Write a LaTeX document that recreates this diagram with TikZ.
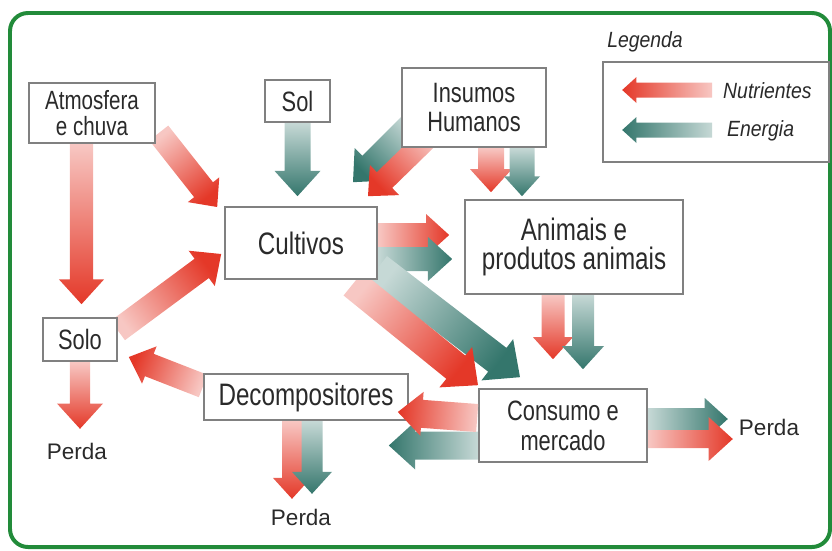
\documentclass[tikz,border=0pt]{standalone}
\usepackage{fontspec}
\setmainfont{Liberation Sans}
\newfontfamily\boxfont{Liberation Sans}[FakeStretch=0.78]
\newfontfamily\legfont{Liberation Sans}[FakeStretch=0.88]
\usetikzlibrary{calc,backgrounds}

\definecolor{nutri}{RGB}{228,56,40}
\definecolor{energ}{RGB}{52,118,108}
\definecolor{framegreen}{RGB}{34,139,58}
\definecolor{boxline}{RGB}{128,128,128}
\definecolor{ink}{RGB}{42,42,42}

% fat shaded arrow: colour, tail, tip, half shaft, half head (in px)
\newcommand{\flowarrow}[5]{%
  \pgfmathanglebetweenpoints{\pgfpointanchor{#2}{center}}{\pgfpointanchor{#3}{center}}%
  \let\flowdir\pgfmathresult
  \pgfmathsetmacro\flowang{\flowdir-90}%
  \pgfmathsetmacro\flowsw{#4*0.8536}%
  \pgfmathsetmacro\flowhw{#5*0.8536}%
  \pgfmathsetmacro\flowhl{#5*0.8536*1.1}%
  \coordinate (fb) at ($(#3)!\flowhl pt!(#2)$);
  \shade[bottom color=#1!28, top color=#1, shading angle=\flowang]
    ($(#2)!\flowsw pt!90:(#3)$) -- ($(fb)!\flowsw pt!90:(#3)$) -- ($(fb)!\flowhw pt!90:(#3)$) -- (#3)
    -- ($(fb)!\flowhw pt!-90:(#3)$) -- ($(fb)!\flowsw pt!-90:(#3)$) -- ($(#2)!\flowsw pt!-90:(#3)$) -- cycle;
}

\begin{document}
\begin{tikzpicture}[x=0.03cm, y=-0.03cm,
        box/.style={rectangle, draw=boxline, line width=1.4pt, fill=white, text=ink, align=center, inner sep=0pt},
        small/.style={box, font=\boxfont\fontsize{23.9}{24.7}\selectfont},
        big/.style={box, font=\boxfont\fontsize{26.5}{24.7}\selectfont},
        loss/.style={text=ink, font=\fontsize{19.2}{22}\selectfont, inner sep=0pt},
        legtext/.style={text=ink, font=\legfont\itshape\fontsize{18.8}{22}\selectfont, inner sep=0pt}
    ]
    \useasboundingbox (0,0) rectangle (832,550);
    \draw[framegreen, line width=3.4pt, rounded corners=0.54cm] (10,13) rectangle (830,547);

    \node[small, minimum width=3.78cm, minimum height=1.8cm, font=\boxfont\fontsize{22.5}{22.5}\selectfont] (atm) at (92,113) {Atmosfera\\e chuva};
    \node[small, minimum width=1.95cm, minimum height=1.26cm] (sol) at (297.5,101) {Sol};
    \node[small, minimum width=4.32cm, minimum height=2.37cm] (ins) at (474,107.5) {Insumos\\Humanos};
    \node[big, minimum width=4.56cm, minimum height=2.16cm] (cult) at (301,243) {Cultivos};
    \node[big, minimum width=6.54cm, minimum height=2.82cm] (anim) at (574,247) {Animais e\\produtos animais};
    \node[small, minimum width=2.22cm, minimum height=1.29cm] (solo) at (80,339.5) {Solo};
    \node[big, minimum width=6.12cm, minimum height=1.38cm] (decomp) at (306,397) {Decompositores};
    \node[small, minimum width=5.04cm, minimum height=2.19cm, font=\boxfont\fontsize{23.9}{25.6}\selectfont] (cons) at (563,425.5) {Consumo e\\mercado};
    \node[loss] (perdaL) at (77,451) {Perda};
    \node[loss] (perdaB) at (301,517) {Perda};
    \node[loss] (perdaR) at (769,427) {Perda};

    % legenda
    \node[legtext] (legtitle) at (645,42) {Legenda};
    \node[box, minimum width=6.78cm, minimum height=3.0cm] (leg) at (716,112) {};
    \node[legtext, anchor=west] (legN) at (723,91) {Nutrientes};
    \node[legtext, anchor=west] (legE) at (727,131) {Energia};

    % arrow ends
    \coordinate (atmsoloT) at ($(atm.south)+(-10.5,0)$);
    \coordinate (atmsoloH) at ($(solo.north)+(1.5,-13)$);
    \coordinate (atmcultT) at ($(atm.east)+(3,20)$);
    \coordinate (atmcultH) at ($(cult.west)+(-7,-36)$);
    \coordinate (solcultT) at (sol.south);
    \coordinate (solcultH) at ($(cult.north)+(-3.5,-10)$);
    \coordinate (inscultET) at ($(ins.west)+(10,16.5)$);
    \coordinate (inscultEH) at ($(cult.north)+(52,-24)$);
    \coordinate (inscultNT) at ($(ins.south)+(-42,-14)$);
    \coordinate (inscultNH) at ($(cult.north)+(67,-10)$);
    \coordinate (insanimNT) at ($(ins.south)+(17,0)$);
    \coordinate (insanimNH) at ($(anim.north)+(-83,-7)$);
    \coordinate (insanimET) at ($(ins.south)+(48,0)$);
    \coordinate (insanimEH) at ($(anim.north)+(-52,-3)$);
    \coordinate (cultanimNT) at ($(cult.east)+(0,-8)$);
    \coordinate (cultanimNH) at ($(anim.west)+(-15,-12)$);
    \coordinate (cultanimET) at ($(cult.east)+(0,16)$);
    \coordinate (cultanimEH) at ($(anim.west)+(-12,12)$);
    \coordinate (solocultT) at ($(solo.east)+(0,-9)$);
    \coordinate (solocultH) at ($(cult.west)+(-3,11)$);
    \coordinate (cultconsET) at ($(cult.east)+(0,25)$);
    \coordinate (cultconsEH) at ($(cons.north)+(-43,-11)$);
    \coordinate (cultconsNT) at ($(cult.south)+(52,4)$);
    \coordinate (cultconsNH) at ($(cons.north)+(-85,-3)$);
    \coordinate (animconsNT) at ($(anim.south)+(-21,0)$);
    \coordinate (animconsNH) at ($(cons.north)+(-10,-29)$);
    \coordinate (animconsET) at ($(anim.south)+(9,0)$);
    \coordinate (animconsEH) at ($(cons.north)+(20,-19)$);
    \coordinate (consdecNT) at ($(cons.west)+(-1,-7.5)$);
    \coordinate (consdecNH) at ($(decomp.east)+(-11,15)$);
    \coordinate (consdecET) at ($(cons.west)+(0,20)$);
    \coordinate (consdecEH) at ($(decomp.east)+(-20,48.5)$);
    \coordinate (decsoloT) at ($(decomp.west)+(0,-11)$);
    \coordinate (decsoloH) at ($(solo.east)+(11,17.5)$);
    \coordinate (soloperdaT) at (solo.south);
    \coordinate (soloperdaH) at ($(solo.south)+(0,67)$);
    \coordinate (decperdaNT) at ($(decomp.south)+(-14,0)$);
    \coordinate (decperdaNH) at ($(decomp.south)+(-14,78)$);
    \coordinate (decperdaET) at ($(decomp.south)+(6,0)$);
    \coordinate (decperdaEH) at ($(decomp.south)+(6,73)$);
    \coordinate (consperdaET) at ($(cons.east)+(0,-6.5)$);
    \coordinate (consperdaEH) at ($(cons.east)+(80,-6.5)$);
    \coordinate (consperdaNT) at ($(cons.east)+(0,13.5)$);
    \coordinate (consperdaNH) at ($(cons.east)+(85,13.5)$);
    \coordinate (legNT) at ($(leg.west)+(110,-22)$);
    \coordinate (legNH) at ($(leg.west)+(20,-22)$);
    \coordinate (legET) at ($(leg.west)+(110,18)$);
    \coordinate (legEH) at ($(leg.west)+(20,18)$);

    \begin{pgfonlayer}{background}
    \flowarrow{nutri}{atmsoloT}{atmsoloH}{11.5}{22.5}
    \flowarrow{nutri}{atmcultT}{atmcultH}{12}{20}
    \flowarrow{energ}{solcultT}{solcultH}{13}{23}
    \flowarrow{energ}{inscultET}{inscultEH}{12}{23}
    \flowarrow{nutri}{inscultNT}{inscultNH}{11}{21}
    \flowarrow{nutri}{insanimNT}{insanimNH}{13}{21}
    \flowarrow{energ}{insanimET}{insanimEH}{12.5}{18}
    \flowarrow{nutri}{cultanimNT}{cultanimNH}{12}{21}
    \flowarrow{energ}{cultanimET}{cultanimEH}{12}{22}
    \flowarrow{nutri}{solocultT}{solocultH}{12}{22}
    \flowarrow{energ}{cultconsET}{cultconsEH}{15}{26}
    \flowarrow{nutri}{cultconsNT}{cultconsNH}{15}{26}
    \flowarrow{nutri}{animconsNT}{animconsNH}{11.5}{20}
    \flowarrow{energ}{animconsET}{animconsEH}{11}{21}
    \flowarrow{energ}{consdecET}{consdecEH}{14}{24}
    \flowarrow{nutri}{decsoloT}{decsoloH}{12}{20}
    \flowarrow{nutri}{soloperdaT}{soloperdaH}{10}{23}
    \flowarrow{nutri}{decperdaNT}{decperdaNH}{10}{19}
    \flowarrow{energ}{decperdaET}{decperdaEH}{10.5}{20}
    \flowarrow{energ}{consperdaET}{consperdaEH}{11}{21}
    \flowarrow{nutri}{consperdaNT}{consperdaNH}{9}{22}
    \end{pgfonlayer}
    % this head lies over the Decompositores box
    \flowarrow{nutri}{consdecNT}{consdecNH}{14}{22}
    \flowarrow{nutri}{legNT}{legNH}{7.5}{13}
    \flowarrow{energ}{legET}{legEH}{7.5}{13}

\end{tikzpicture}
\end{document}
